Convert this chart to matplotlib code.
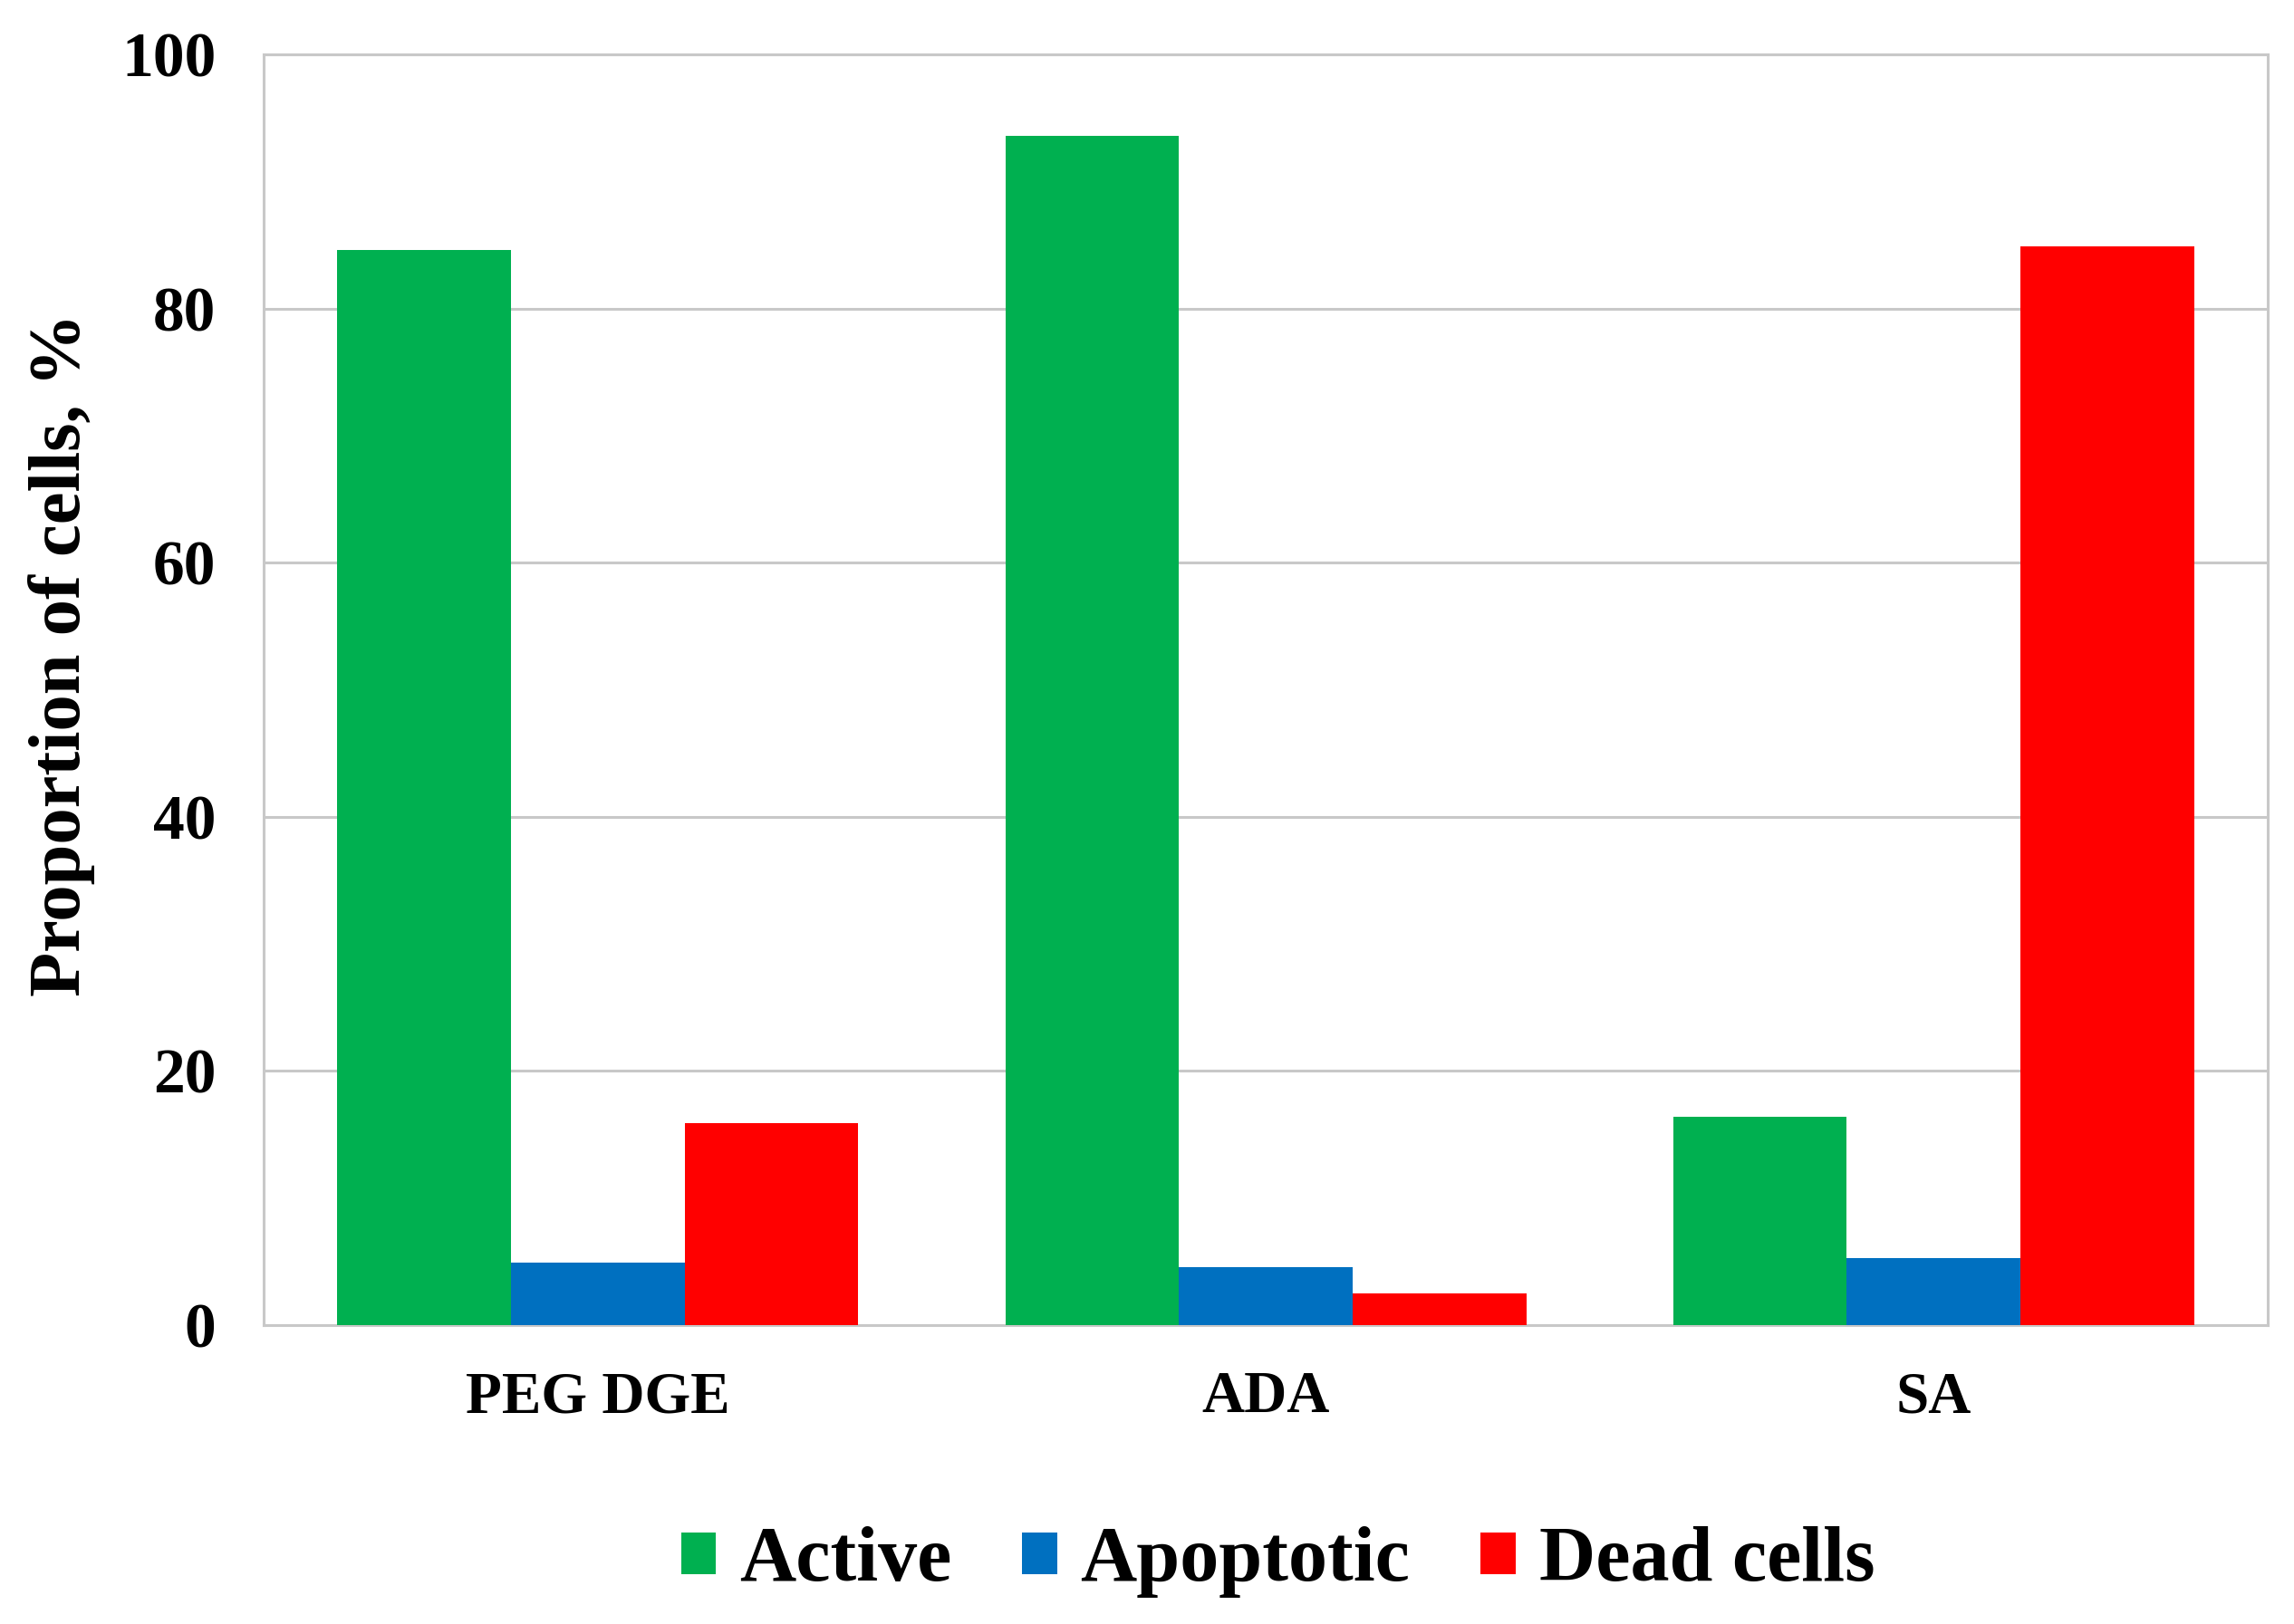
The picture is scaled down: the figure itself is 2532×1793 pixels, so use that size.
import matplotlib.pyplot as plt
import numpy as np

# values
categories = ["PEG DGE", "ADA", "SA"]
series_names = ["Active", "Apoptotic", "Dead cells"]
active = [84.6, 93.6, 16.4]
apoptotic = [4.9, 4.6, 5.3]
dead = [15.9, 2.5, 84.9]
colors = ["#00B050", "#0070C0", "#FF0000"]
y_ticks = [0, 20, 40, 60, 80, 100]

plt.rcParams["font.family"] = ["Liberation Serif", "DejaVu Serif"]
plt.rcParams["font.weight"] = "bold"

fig = plt.figure(figsize=(25.32, 17.93), dpi=100)
ax = fig.add_axes([0.115, 0.184, 0.8735, 0.7825])

x = np.arange(len(categories))
width = 0.26
for i, (vals, name) in enumerate(zip([active, apoptotic, dead], series_names)):
    ax.bar(x + (i - 1) * width, vals, width, color=colors[i], label=name, zorder=3)

ax.set_xlim(-0.5, len(categories) - 0.5)
ax.set_ylim(0, 100)
ax.set_yticks(y_ticks)
ax.set_xticks(x)
ax.set_xticklabels(categories)
ax.tick_params(axis="y", length=0, pad=38, labelsize=50)
ax.tick_params(axis="x", length=0, pad=36, labelsize=47)
for lab in ax.get_xticklabels() + ax.get_yticklabels():
    lab.set_fontweight("bold")

ax.grid(axis="y", color="#C8C8C8", linewidth=2.2, zorder=0)
for sp in ax.spines.values():
    sp.set_color("#C8C8C8")
    sp.set_linewidth(2.2)

fig.text(0.027, 0.597, "Proportion of cells, %", rotation=90, ha="center", va="center",
         fontsize=58, fontweight="bold")

leg = fig.legend(loc="center", bbox_to_anchor=(0.557, 0.038), ncol=3, frameon=False,
                 handlelength=0.45, handleheight=0.45, handletextpad=0.3,
                 columnspacing=0.9, prop={"weight": "bold", "size": 62})

fig.savefig("out.png", dpi=100, facecolor="white")
